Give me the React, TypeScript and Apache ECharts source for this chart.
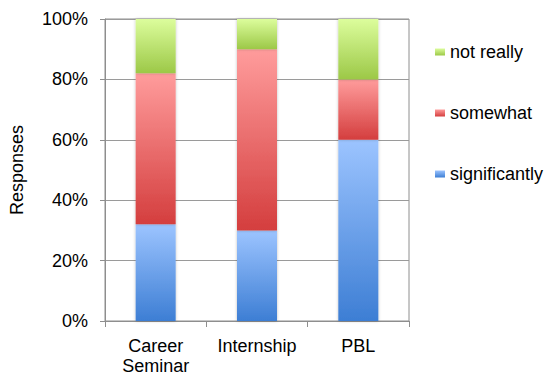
import React, { useEffect, useRef } from "react";
import * as echarts from "echarts";

const categories = ["Career\nSeminar", "Internship", "PBL"];
const significantly = [32, 30, 60];
const somewhat = [50, 60, 20];
const notReally = [18, 10, 20];
const legendOrder = ["not really", "somewhat", "significantly"];

const FONT = 'Helvetica, "Liberation Sans", Arial, sans-serif';

function grad(top: string, bottom: string) {
  return new echarts.graphic.LinearGradient(0, 0, 0, 1, [
    { offset: 0, color: top },
    { offset: 1, color: bottom },
  ]);
}

export default function App() {
  const ref = useRef<HTMLDivElement>(null);

  useEffect(() => {
    if (!ref.current) return;
    const chart = echarts.init(ref.current, undefined, { renderer: "svg" });

    const barCommon = {
      type: "bar" as const,
      stack: "total",
      barWidth: 40,
    };
    const shadow = {
      shadowBlur: 3,
      shadowColor: "rgba(0,0,0,0.25)",
      shadowOffsetX: 0,
      shadowOffsetY: 0,
    };

    chart.setOption({
      animation: false,
      textStyle: { fontFamily: FONT },
      grid: {
        left: 105,
        top: 19,
        width: 304,
        height: 302,
        show: true,
        borderColor: "#8e8e8e",
        borderWidth: 1,
        backgroundColor: "transparent",
      },
      legend: {
        orient: "vertical",
        left: 435,
        top: 43,
        padding: 0,
        itemGap: 43,
        itemWidth: 10,
        itemHeight: 7,
        icon: "rect",
        data: legendOrder,
        textStyle: { fontSize: 18, color: "#000", fontFamily: FONT },
      },
      xAxis: {
        type: "category",
        data: categories,
        axisLine: { lineStyle: { color: "#8e8e8e", width: 1 } },
        axisTick: { show: true, length: 6, alignWithLabel: false, lineStyle: { color: "#8e8e8e" } },
        axisLabel: {
          interval: 0,
          hideOverlap: false,
          fontSize: 18,
          color: "#000",
          margin: 15,
          lineHeight: 20,
          fontFamily: FONT,
        },
      },
      yAxis: {
        type: "value",
        min: 0,
        max: 100,
        interval: 20,
        name: "Responses",
        nameLocation: "middle",
        nameGap: 79,
        nameTextStyle: { fontSize: 18, color: "#000", fontFamily: FONT },
        axisLine: { show: true, lineStyle: { color: "#8e8e8e", width: 1 } },
        axisTick: { show: true, length: 5, lineStyle: { color: "#8e8e8e" } },
        splitLine: { show: true, lineStyle: { color: "#9a9a9a", width: 1 } },
        axisLabel: {
          fontSize: 18,
          color: "#000",
          margin: 17,
          fontFamily: FONT,
          formatter: (v: number) => `${v}%`,
        },
      },
      series: [
        {
          ...barCommon,
          name: "significantly",
          data: significantly,
          itemStyle: { color: grad("#9cc4ff", "#3d7ed4"), ...shadow },
        },
        {
          ...barCommon,
          name: "somewhat",
          data: somewhat,
          itemStyle: { color: grad("#ff9c9c", "#d43e3e"), ...shadow },
        },
        {
          ...barCommon,
          name: "not really",
          data: notReally,
          itemStyle: { color: grad("#dcfd9c", "#9cc847"), ...shadow },
        },
      ],
    });

    return () => chart.dispose();
  }, []);

  return <div ref={ref} style={{ width: 553, height: 376, position: "absolute", left: 0, top: 0 }} />;
}
